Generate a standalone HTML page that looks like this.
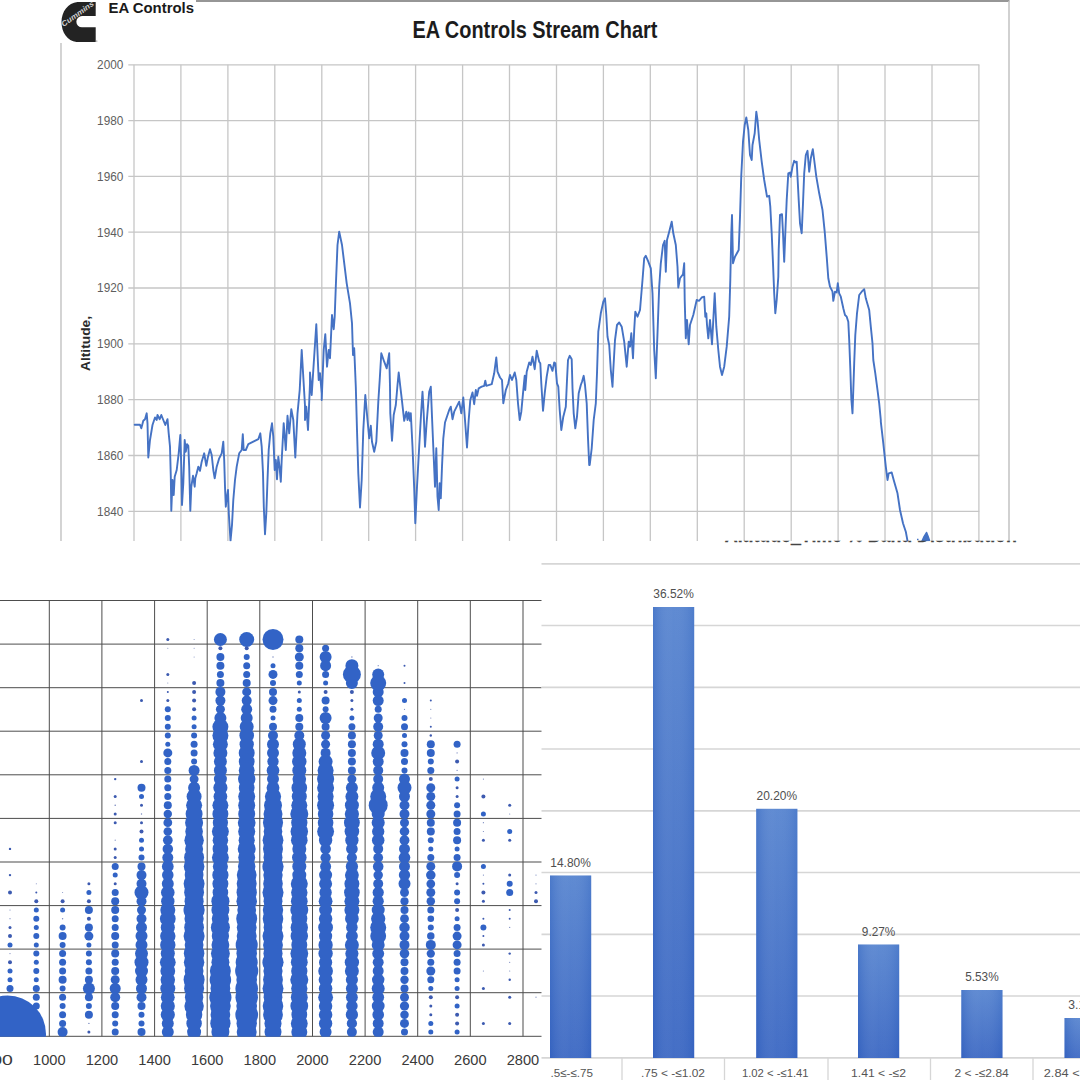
<!DOCTYPE html>
<html lang="en"><head><meta charset="utf-8"><title>EA Controls Stream Chart</title>
<style>
html,body{margin:0;padding:0;background:#fff;}
body{width:1080px;height:1080px;overflow:hidden;font-family:"Liberation Sans",sans-serif;}
svg{display:block;position:absolute;left:0;top:0;}
text{font-family:"Liberation Sans",sans-serif;}
</style></head><body>
<svg width="1080" height="1080" viewBox="0 0 1080 1080">
<defs>
<linearGradient id="bar" x1="0" y1="0" x2="0" y2="1"><stop offset="0" stop-color="#5583cf"/><stop offset="1" stop-color="#3865c2"/></linearGradient>
<linearGradient id="barh" x1="0" y1="0" x2="1" y2="0"><stop offset="0" stop-color="#2a5ab8" stop-opacity=".25"/><stop offset=".5" stop-color="#ffffff" stop-opacity=".06"/><stop offset="1" stop-color="#2a5ab8" stop-opacity=".18"/></linearGradient>
<clipPath id="cpTop"><rect x="0" y="0" width="1080" height="541.2"/></clipPath>
<clipPath id="cpBub"><rect x="0" y="560" width="541" height="476.8"/></clipPath>
<clipPath id="cpTxt"><rect x="700" y="540.8" width="340" height="10"/></clipPath>
<filter id="soft" x="-5%" y="-5%" width="110%" height="110%"><feGaussianBlur stdDeviation="0.6"/></filter>
<filter id="soft2" x="-5%" y="-5%" width="110%" height="110%"><feGaussianBlur stdDeviation="0.35"/></filter>
</defs>
<rect width="1080" height="1080" fill="#ffffff"/>

<g id="top-panel">
<line x1="196" y1="1" x2="1009.5" y2="1" stroke="#969696" stroke-width="1.9"/>
<line x1="1009" y1="1" x2="1009" y2="541" stroke="#c6c6c6" stroke-width="1.6"/>
<line x1="61" y1="43" x2="61" y2="541" stroke="#c9c9c9" stroke-width="1.6"/>
<g stroke="#c6c6c6" stroke-width="1.3" filter="url(#soft2)">
<line x1="128.3" y1="64.8" x2="979.3" y2="64.8"/>
<line x1="128.3" y1="120.6" x2="979.3" y2="120.6"/>
<line x1="128.3" y1="176.4" x2="979.3" y2="176.4"/>
<line x1="128.3" y1="232.2" x2="979.3" y2="232.2"/>
<line x1="128.3" y1="288.0" x2="979.3" y2="288.0"/>
<line x1="128.3" y1="343.9" x2="979.3" y2="343.9"/>
<line x1="128.3" y1="399.7" x2="979.3" y2="399.7"/>
<line x1="128.3" y1="455.5" x2="979.3" y2="455.5"/>
<line x1="128.3" y1="511.3" x2="979.3" y2="511.3"/>
<line x1="134.0" y1="64.8" x2="134.0" y2="541"/>
<line x1="180.9" y1="64.8" x2="180.9" y2="541"/>
<line x1="227.9" y1="64.8" x2="227.9" y2="541"/>
<line x1="274.8" y1="64.8" x2="274.8" y2="541"/>
<line x1="321.8" y1="64.8" x2="321.8" y2="541"/>
<line x1="368.7" y1="64.8" x2="368.7" y2="541"/>
<line x1="415.6" y1="64.8" x2="415.6" y2="541"/>
<line x1="462.6" y1="64.8" x2="462.6" y2="541"/>
<line x1="509.5" y1="64.8" x2="509.5" y2="541"/>
<line x1="556.5" y1="64.8" x2="556.5" y2="541"/>
<line x1="603.4" y1="64.8" x2="603.4" y2="541"/>
<line x1="650.3" y1="64.8" x2="650.3" y2="541"/>
<line x1="697.3" y1="64.8" x2="697.3" y2="541"/>
<line x1="744.2" y1="64.8" x2="744.2" y2="541"/>
<line x1="791.2" y1="64.8" x2="791.2" y2="541"/>
<line x1="838.1" y1="64.8" x2="838.1" y2="541"/>
<line x1="885.0" y1="64.8" x2="885.0" y2="541"/>
<line x1="932.0" y1="64.8" x2="932.0" y2="541"/>
<line x1="978.9" y1="64.8" x2="978.9" y2="541"/>
</g>
<g font-size="13" fill="#5e5e5e" text-anchor="end">
<text x="123.3" y="69.1" textLength="26.2" lengthAdjust="spacingAndGlyphs">2000</text>
<text x="123.3" y="124.9" textLength="26.2" lengthAdjust="spacingAndGlyphs">1980</text>
<text x="123.3" y="180.7" textLength="26.2" lengthAdjust="spacingAndGlyphs">1960</text>
<text x="123.3" y="236.5" textLength="26.2" lengthAdjust="spacingAndGlyphs">1940</text>
<text x="123.3" y="292.3" textLength="26.2" lengthAdjust="spacingAndGlyphs">1920</text>
<text x="123.3" y="348.2" textLength="26.2" lengthAdjust="spacingAndGlyphs">1900</text>
<text x="123.3" y="404.0" textLength="26.2" lengthAdjust="spacingAndGlyphs">1880</text>
<text x="123.3" y="459.8" textLength="26.2" lengthAdjust="spacingAndGlyphs">1860</text>
<text x="123.3" y="515.6" textLength="26.2" lengthAdjust="spacingAndGlyphs">1840</text>
</g>
<text transform="translate(89.6,371) rotate(-90)" font-size="12.2" font-weight="700" fill="#2b2b2b" textLength="55" lengthAdjust="spacingAndGlyphs">Altitude,</text>
<text x="412.4" y="37.6" font-size="23.8" font-weight="700" fill="#1c1c1c" textLength="245" lengthAdjust="spacingAndGlyphs">EA Controls Stream Chart</text>
<g id="logo">
<path d="M95.7 1.9 L77.5 1.9 C68 2.8 61.5 11.5 61.5 22 C61.5 32.5 67.5 41 76.5 41.9 L95.7 41.9 L95.7 27.3 L82 27.3 A5.65 5.65 0 0 1 82 16 L95.7 16 Z" fill="#232323"/>
<text transform="translate(63.6,26.9) rotate(-35.5)" font-size="7.6" font-weight="700" font-style="italic" fill="#d0d0d0" textLength="38" lengthAdjust="spacingAndGlyphs">Cummins</text>
<circle cx="96.8" cy="41" r=".6" fill="#555"/>
</g>
<text x="108.5" y="13" font-size="15" font-weight="700" fill="#1a1a1a" textLength="85.5" lengthAdjust="spacingAndGlyphs">EA Controls</text>
<g clip-path="url(#cpTop)"><polyline points="134.7,424.7 140.0,424.7 141.3,428.3 143.3,420.8 145.0,419.2 146.7,413.3 147.5,423.3 148.3,457.5 150.0,440.0 152.5,425.0 155.0,417.5 156.7,420.0 157.5,415.0 159.7,419.2 161.3,415.0 163.3,420.0 165.3,425.0 167.5,419.2 168.7,433.3 170.0,446.7 170.8,476.7 171.3,510.8 172.5,480.0 173.7,495.0 174.7,476.7 176.7,470.0 178.7,453.3 180.3,435.0 181.3,466.7 182.0,505.0 183.3,483.3 184.7,440.0 185.8,451.7 187.0,444.2 188.3,445.8 189.2,466.7 190.3,510.8 191.3,486.7 193.0,475.8 194.7,486.7 195.3,478.3 196.7,473.3 198.3,466.7 200.0,470.8 201.7,461.7 204.2,453.3 206.3,465.8 208.0,456.7 210.0,449.2 211.7,455.0 213.3,470.0 214.7,478.3 216.7,466.7 219.2,458.3 221.7,453.3 223.3,441.7 224.2,460.0 225.0,486.7 225.8,506.7 227.0,496.7 228.0,490.0 228.8,513.3 230.5,540.8 232.0,525.0 233.3,500.0 235.0,480.0 236.7,466.7 239.2,453.3 241.7,450.0 242.8,434.2 243.7,450.0 245.8,450.0 248.3,444.2 253.3,441.7 258.3,439.2 260.3,433.3 261.7,446.7 263.0,473.3 263.8,506.7 265.0,534.2 266.3,513.3 267.5,480.0 268.7,450.0 270.3,433.3 272.0,423.3 273.3,436.7 274.7,470.0 275.8,460.0 277.0,479.2 278.3,456.7 279.7,468.3 280.8,481.7 281.7,460.0 283.7,423.3 285.8,450.0 287.5,415.8 289.2,433.3 291.3,409.2 293.3,420.0 295.3,457.5 297.5,413.3 299.7,390.0 301.7,350.0 305.0,405.8 305.0,420.0 306.3,406.7 308.0,430.0 310.0,383.3 310.0,372.5 311.7,395.0 313.3,370.0 316.3,324.2 318.7,380.0 320.0,373.3 321.7,393.3 321.7,400.0 323.7,350.0 325.3,334.2 327.0,366.7 328.7,350.0 330.0,358.3 332.0,315.0 333.7,329.2 334.7,316.7 335.8,286.7 337.5,245.0 339.2,231.7 342.0,245.0 346.7,283.3 350.0,303.3 352.0,323.3 353.0,355.0 354.2,348.3 355.8,386.7 357.0,430.0 358.3,473.3 360.0,507.5 361.7,480.0 363.3,430.0 365.3,395.0 367.5,420.0 369.2,438.3 370.8,425.8 372.0,441.7 374.2,451.7 376.3,441.7 378.3,401.7 379.7,380.0 381.3,353.3 384.2,361.7 386.7,368.3 389.2,353.3 390.0,386.7 390.3,413.3 392.0,440.8 393.7,415.0 395.8,405.0 397.5,385.0 398.7,372.5 400.3,386.7 401.7,398.3 404.2,420.8 406.3,411.7 407.5,420.0 408.7,412.5 410.0,420.8 410.8,413.3 412.5,446.7 414.2,488.3 415.3,523.3 417.0,486.7 419.2,446.7 421.3,410.0 422.5,391.7 423.7,413.3 425.0,446.7 426.7,421.7 429.2,391.7 430.8,386.7 432.0,416.7 433.7,456.7 435.0,486.7 436.3,448.3 437.5,496.7 438.7,510.0 439.7,483.3 440.8,498.3 442.0,466.7 443.3,438.3 445.0,422.5 447.5,415.0 449.2,410.0 450.8,406.7 452.5,419.2 454.2,411.7 456.7,406.7 459.2,401.7 461.3,413.3 463.3,397.5 465.0,420.0 467.0,447.5 468.7,420.0 470.3,400.0 472.5,392.5 474.2,404.2 475.8,390.0 477.0,395.8 478.7,388.3 481.7,386.7 484.2,385.8 485.3,380.8 486.3,385.8 491.7,384.2 494.2,373.3 496.3,357.5 497.5,371.7 500.0,377.5 502.0,380.0 503.3,403.3 505.8,390.0 508.3,383.3 510.0,375.0 512.0,380.0 514.7,372.5 516.3,380.0 518.0,403.3 519.7,420.0 521.3,411.7 523.0,393.3 524.7,375.8 525.3,390.0 526.7,371.7 529.2,362.5 530.8,365.0 532.5,356.7 534.7,369.2 536.7,350.8 539.2,361.7 540.3,363.3 541.3,383.3 543.0,410.8 544.7,393.3 546.7,376.7 548.7,365.0 550.3,365.0 552.5,370.8 554.2,362.5 555.3,363.3 557.0,383.3 558.3,386.7 559.7,410.0 561.3,430.0 563.3,416.7 565.8,406.7 567.0,380.0 568.0,360.0 569.7,355.8 571.7,359.2 572.5,388.3 573.7,413.3 575.3,428.3 577.0,416.7 578.7,393.3 580.8,385.0 582.0,381.7 583.7,375.8 585.0,385.0 586.7,403.3 588.0,438.3 589.2,465.0 589.7,465.0 591.7,448.3 593.7,420.0 595.8,403.3 597.0,373.3 598.3,331.7 600.8,313.3 603.3,301.7 605.0,298.3 606.3,315.0 607.5,336.7 609.2,345.0 610.8,370.0 612.5,386.7 613.3,370.0 615.0,340.0 617.0,325.0 619.2,322.5 621.7,326.7 624.2,341.7 626.7,366.7 628.7,341.7 630.0,346.7 631.3,333.3 633.0,358.3 634.2,330.0 635.3,311.7 637.5,316.7 640.0,310.0 642.5,280.0 644.2,258.3 645.8,255.8 648.3,261.7 650.8,268.3 652.5,293.3 654.2,350.0 655.8,378.3 657.5,333.3 659.2,286.7 660.8,263.3 663.0,245.0 664.7,240.8 665.8,271.7 667.0,240.0 669.2,231.7 671.7,221.7 673.3,233.3 675.8,245.0 677.5,266.7 678.3,287.5 680.0,278.3 683.0,274.2 684.2,263.3 684.7,300.0 685.8,338.3 687.0,320.0 688.7,344.2 690.0,325.0 693.3,315.0 696.7,300.0 699.2,300.8 701.7,297.5 704.2,296.7 705.3,316.7 706.3,313.3 707.0,325.0 708.3,338.3 710.0,320.0 712.0,344.2 713.3,320.0 714.7,293.3 716.3,326.7 718.3,350.0 720.0,366.7 722.0,375.0 724.2,366.7 726.7,346.7 729.2,316.7 730.3,280.0 731.3,233.3 732.0,215.0 733.0,263.3 735.0,256.7 738.7,250.0 740.0,216.7 741.3,175.0 743.0,141.7 744.7,125.0 746.3,117.5 748.3,130.0 750.0,155.0 751.7,160.0 752.5,145.0 754.7,133.3 756.3,111.7 757.5,120.0 759.2,140.0 761.7,161.7 764.2,180.0 767.0,196.7 769.2,195.8 770.3,206.7 771.7,233.3 773.0,263.3 774.2,293.3 775.3,313.3 776.7,300.0 778.3,276.7 778.7,250.0 780.0,215.0 782.0,214.2 783.0,233.3 784.2,261.7 785.3,233.3 786.7,200.0 788.3,173.3 790.0,172.5 790.8,176.7 792.5,166.7 794.2,160.8 795.8,162.5 796.7,161.7 797.5,176.7 798.7,200.0 800.0,223.3 801.7,233.3 803.0,203.3 804.2,173.3 805.8,155.0 807.5,150.8 809.2,171.7 810.8,158.3 812.8,149.2 814.2,160.0 816.3,176.7 819.2,193.3 822.5,210.0 824.7,231.7 826.7,256.7 828.3,278.3 830.0,286.7 832.5,291.7 833.3,300.8 835.0,291.7 836.7,292.5 837.8,283.3 839.2,293.3 840.8,296.7 843.3,308.3 845.0,315.0 846.7,316.7 848.3,321.7 849.2,340.0 850.3,368.3 851.3,398.3 852.5,413.3 853.3,390.0 854.2,363.3 855.3,335.0 857.0,313.3 859.2,295.0 861.7,291.7 864.2,289.2 865.8,298.3 869.2,310.0 870.8,326.7 872.5,343.3 873.3,360.0 875.3,373.3 877.5,390.0 879.2,403.3 880.8,420.0 880.8,421.7 883.3,443.3 885.8,466.7 887.5,480.0 888.7,473.3 891.7,472.5 893.7,480.0 897.5,493.3 900.0,510.0 903.0,523.3 905.8,531.7 907.5,540.8" fill="none" stroke="#4472c4" stroke-width="1.9" stroke-linejoin="round" stroke-linecap="round" filter="url(#soft2)"/>
<path d="M917 539.5 L918.5 539.5 M922 541 L924 536.5 L926.6 532.4 L928 536 L929.6 540.5 Z" fill="#4472c4" stroke="#4472c4" stroke-width="1.4" stroke-linejoin="round"/></g>
</g>
<g clip-path="url(#cpTxt)"><text x="724.8" y="541.5" font-size="25" font-weight="700" fill="#444444" stroke="#444444" stroke-width="0.4" textLength="292" lengthAdjust="spacingAndGlyphs">Altitude_Time % Band Distribution</text></g>
<g id="bubble-panel">
<g stroke="#4d4d4d" stroke-width="1" filter="url(#soft2)">
<line x1="0" y1="600.5" x2="541.5" y2="600.5"/>
<line x1="0" y1="644.1" x2="541.5" y2="644.1"/>
<line x1="0" y1="687.7" x2="541.5" y2="687.7"/>
<line x1="0" y1="731.2" x2="541.5" y2="731.2"/>
<line x1="0" y1="774.8" x2="541.5" y2="774.8"/>
<line x1="0" y1="818.4" x2="541.5" y2="818.4"/>
<line x1="0" y1="862.0" x2="541.5" y2="862.0"/>
<line x1="0" y1="905.6" x2="541.5" y2="905.6"/>
<line x1="0" y1="949.1" x2="541.5" y2="949.1"/>
<line x1="0" y1="992.7" x2="541.5" y2="992.7"/>
<line x1="0" y1="1036.3" x2="541.5" y2="1036.3"/>
<line x1="49.3" y1="600.5" x2="49.3" y2="1036.3"/>
<line x1="101.9" y1="600.5" x2="101.9" y2="1036.3"/>
<line x1="154.6" y1="600.5" x2="154.6" y2="1036.3"/>
<line x1="207.2" y1="600.5" x2="207.2" y2="1036.3"/>
<line x1="259.8" y1="600.5" x2="259.8" y2="1036.3"/>
<line x1="312.5" y1="600.5" x2="312.5" y2="1036.3"/>
<line x1="365.1" y1="600.5" x2="365.1" y2="1036.3"/>
<line x1="417.7" y1="600.5" x2="417.7" y2="1036.3"/>
<line x1="470.3" y1="600.5" x2="470.3" y2="1036.3"/>
<line x1="523.0" y1="600.5" x2="523.0" y2="1036.3"/>
</g>
<g fill="#3164c6" clip-path="url(#cpBub)"><g filter="url(#soft)">
<circle cx="7.5" cy="1034" r="38.5"/>
<circle cx="10.0" cy="848.9" r="1.2" fill="#3c5ab0"/>
<circle cx="10.0" cy="875.1" r="1.2" fill="#3c5ab0"/>
<circle cx="10.0" cy="892.5" r="2" fill="#3c5ab0"/>
<circle cx="10.0" cy="910.0" r="0.6" fill="#4a5fa8" fill-opacity=".75"/>
<circle cx="10.0" cy="918.7" r="0.6" fill="#4a5fa8" fill-opacity=".75"/>
<circle cx="10.0" cy="927.4" r="1.5" fill="#3c5ab0"/>
<circle cx="10.0" cy="936.1" r="2" fill="#3c5ab0"/>
<circle cx="10.0" cy="944.9" r="2.5"/>
<circle cx="10.0" cy="953.6" r="0.6" fill="#4a5fa8" fill-opacity=".75"/>
<circle cx="10.0" cy="962.3" r="2" fill="#3c5ab0"/>
<circle cx="10.0" cy="971.0" r="2.5"/>
<circle cx="10.0" cy="979.8" r="2.5"/>
<circle cx="10.0" cy="988.5" r="3.5"/>
<circle cx="36.3" cy="883.8" r="0.5" fill="#4a5fa8" fill-opacity=".75"/>
<circle cx="36.3" cy="892.5" r="1" fill="#3c5ab0"/>
<circle cx="36.3" cy="901.2" r="2" fill="#3c5ab0"/>
<circle cx="36.3" cy="910.0" r="2.5"/>
<circle cx="36.3" cy="918.7" r="3"/>
<circle cx="36.3" cy="927.4" r="2.5"/>
<circle cx="36.3" cy="936.1" r="3"/>
<circle cx="36.3" cy="944.9" r="2.5"/>
<circle cx="36.3" cy="953.6" r="3"/>
<circle cx="36.3" cy="962.3" r="2.5"/>
<circle cx="36.3" cy="971.0" r="3"/>
<circle cx="36.3" cy="979.8" r="2.5"/>
<circle cx="36.3" cy="988.5" r="3.5"/>
<circle cx="36.3" cy="997.2" r="3.5"/>
<circle cx="36.3" cy="1006.0" r="3.5"/>
<circle cx="62.6" cy="892.5" r="0.5" fill="#4a5fa8" fill-opacity=".75"/>
<circle cx="62.6" cy="901.2" r="2" fill="#3c5ab0"/>
<circle cx="62.6" cy="910.0" r="2.5"/>
<circle cx="62.6" cy="918.7" r="0.7" fill="#4a5fa8" fill-opacity=".75"/>
<circle cx="62.6" cy="927.4" r="3"/>
<circle cx="62.6" cy="936.1" r="4"/>
<circle cx="62.6" cy="944.9" r="3"/>
<circle cx="62.6" cy="953.6" r="3.5"/>
<circle cx="62.6" cy="962.3" r="3.5"/>
<circle cx="62.6" cy="971.0" r="3.5"/>
<circle cx="62.6" cy="979.8" r="4"/>
<circle cx="62.6" cy="988.5" r="3"/>
<circle cx="62.6" cy="997.2" r="3.5"/>
<circle cx="62.6" cy="1006.0" r="3"/>
<circle cx="62.6" cy="1014.7" r="3.5"/>
<circle cx="62.6" cy="1023.4" r="3.5"/>
<circle cx="62.6" cy="1032.1" r="5"/>
<circle cx="88.9" cy="883.8" r="1.5" fill="#3c5ab0"/>
<circle cx="88.9" cy="892.5" r="2.5"/>
<circle cx="88.9" cy="901.2" r="2" fill="#3c5ab0"/>
<circle cx="88.9" cy="910.0" r="4"/>
<circle cx="88.9" cy="918.7" r="2" fill="#3c5ab0"/>
<circle cx="88.9" cy="927.4" r="4"/>
<circle cx="88.9" cy="936.1" r="4.5"/>
<circle cx="88.9" cy="944.9" r="2.5"/>
<circle cx="88.9" cy="953.6" r="3"/>
<circle cx="88.9" cy="962.3" r="3"/>
<circle cx="88.9" cy="971.0" r="3.5"/>
<circle cx="88.9" cy="979.8" r="4"/>
<circle cx="88.9" cy="988.5" r="6"/>
<circle cx="88.9" cy="997.2" r="4"/>
<circle cx="88.9" cy="1006.0" r="3"/>
<circle cx="88.9" cy="1014.7" r="4"/>
<circle cx="88.9" cy="1023.4" r="0.7" fill="#4a5fa8" fill-opacity=".75"/>
<circle cx="88.9" cy="1032.1" r="1.5" fill="#3c5ab0"/>
<circle cx="115.2" cy="779.1" r="1.2" fill="#3c5ab0"/>
<circle cx="115.2" cy="796.5" r="1.5" fill="#3c5ab0"/>
<circle cx="115.2" cy="805.3" r="0.8" fill="#4a5fa8" fill-opacity=".75"/>
<circle cx="115.2" cy="814.0" r="1.5" fill="#3c5ab0"/>
<circle cx="115.2" cy="822.7" r="1.5" fill="#3c5ab0"/>
<circle cx="115.2" cy="840.2" r="0.6" fill="#4a5fa8" fill-opacity=".75"/>
<circle cx="115.2" cy="848.9" r="1.5" fill="#3c5ab0"/>
<circle cx="115.2" cy="857.6" r="1.5" fill="#3c5ab0"/>
<circle cx="115.2" cy="866.4" r="3.5"/>
<circle cx="115.2" cy="875.1" r="2.5"/>
<circle cx="115.2" cy="883.8" r="1.5" fill="#3c5ab0"/>
<circle cx="115.2" cy="892.5" r="3.5"/>
<circle cx="115.2" cy="901.2" r="4"/>
<circle cx="115.2" cy="910.0" r="4"/>
<circle cx="115.2" cy="918.7" r="3.5"/>
<circle cx="115.2" cy="927.4" r="3.5"/>
<circle cx="115.2" cy="936.1" r="4"/>
<circle cx="115.2" cy="944.9" r="3.5"/>
<circle cx="115.2" cy="953.6" r="4"/>
<circle cx="115.2" cy="962.3" r="3.5"/>
<circle cx="115.2" cy="971.0" r="4"/>
<circle cx="115.2" cy="979.8" r="4.5"/>
<circle cx="115.2" cy="988.5" r="5.5"/>
<circle cx="115.2" cy="997.2" r="5"/>
<circle cx="115.2" cy="1006.0" r="4"/>
<circle cx="115.2" cy="1014.7" r="3.5"/>
<circle cx="115.2" cy="1023.4" r="3"/>
<circle cx="115.2" cy="1032.1" r="3.5"/>
<circle cx="141.5" cy="700.6" r="1.5" fill="#3c5ab0"/>
<circle cx="141.5" cy="761.6" r="1.5" fill="#3c5ab0"/>
<circle cx="141.5" cy="787.8" r="4"/>
<circle cx="141.5" cy="796.5" r="2.5"/>
<circle cx="141.5" cy="805.3" r="1.5" fill="#3c5ab0"/>
<circle cx="141.5" cy="814.0" r="0.7" fill="#4a5fa8" fill-opacity=".75"/>
<circle cx="141.5" cy="822.7" r="1.5" fill="#3c5ab0"/>
<circle cx="141.5" cy="831.5" r="2" fill="#3c5ab0"/>
<circle cx="141.5" cy="840.2" r="2.5"/>
<circle cx="141.5" cy="848.9" r="2.5"/>
<circle cx="141.5" cy="857.6" r="3"/>
<circle cx="141.5" cy="866.4" r="4"/>
<circle cx="141.5" cy="875.1" r="5"/>
<circle cx="141.5" cy="883.8" r="5"/>
<circle cx="141.5" cy="892.5" r="7"/>
<circle cx="141.5" cy="901.2" r="5"/>
<circle cx="141.5" cy="910.0" r="4.5"/>
<circle cx="141.5" cy="918.7" r="5"/>
<circle cx="141.5" cy="927.4" r="5.5"/>
<circle cx="141.5" cy="936.1" r="6"/>
<circle cx="141.5" cy="944.9" r="6"/>
<circle cx="141.5" cy="953.6" r="6.5"/>
<circle cx="141.5" cy="962.3" r="7"/>
<circle cx="141.5" cy="971.0" r="6.5"/>
<circle cx="141.5" cy="979.8" r="6"/>
<circle cx="141.5" cy="988.5" r="5.5"/>
<circle cx="141.5" cy="997.2" r="5"/>
<circle cx="141.5" cy="1006.0" r="4"/>
<circle cx="141.5" cy="1014.7" r="3"/>
<circle cx="141.5" cy="1023.4" r="3"/>
<circle cx="141.5" cy="1032.1" r="4"/>
<circle cx="167.8" cy="639.5" r="1.5" fill="#3c5ab0"/>
<circle cx="167.8" cy="648.2" r="0.5" fill="#4a5fa8" fill-opacity=".75"/>
<circle cx="167.8" cy="674.4" r="1.5" fill="#3c5ab0"/>
<circle cx="167.8" cy="683.1" r="0.5" fill="#4a5fa8" fill-opacity=".75"/>
<circle cx="167.8" cy="691.9" r="1" fill="#3c5ab0"/>
<circle cx="167.8" cy="700.6" r="1.5" fill="#3c5ab0"/>
<circle cx="167.8" cy="709.3" r="3"/>
<circle cx="167.8" cy="718.0" r="3"/>
<circle cx="167.8" cy="726.8" r="3"/>
<circle cx="167.8" cy="735.5" r="3"/>
<circle cx="167.8" cy="744.2" r="2.5"/>
<circle cx="167.8" cy="752.9" r="4.5"/>
<circle cx="167.8" cy="761.6" r="3.5"/>
<circle cx="167.8" cy="770.4" r="3.5"/>
<circle cx="167.8" cy="779.1" r="3.5"/>
<circle cx="167.8" cy="787.8" r="3.5"/>
<circle cx="167.8" cy="796.5" r="3.5"/>
<circle cx="167.8" cy="805.3" r="4"/>
<circle cx="167.8" cy="814.0" r="4.2"/>
<circle cx="167.8" cy="822.7" r="4.4"/>
<circle cx="167.8" cy="831.5" r="4.3"/>
<circle cx="167.8" cy="840.2" r="4.85"/>
<circle cx="167.8" cy="848.9" r="5.26"/>
<circle cx="167.8" cy="857.6" r="5.5"/>
<circle cx="167.8" cy="866.4" r="5.88"/>
<circle cx="167.8" cy="875.1" r="5.78"/>
<circle cx="167.8" cy="883.8" r="6"/>
<circle cx="167.8" cy="892.5" r="6.82"/>
<circle cx="167.8" cy="901.2" r="6.7"/>
<circle cx="167.8" cy="910.0" r="7.5"/>
<circle cx="167.8" cy="918.7" r="7.88"/>
<circle cx="167.8" cy="927.4" r="7.07"/>
<circle cx="167.8" cy="936.1" r="7.69"/>
<circle cx="167.8" cy="944.9" r="7.68"/>
<circle cx="167.8" cy="953.6" r="7.07"/>
<circle cx="167.8" cy="962.3" r="7.89"/>
<circle cx="167.8" cy="971.0" r="7.41"/>
<circle cx="167.8" cy="979.8" r="7.23"/>
<circle cx="167.8" cy="988.5" r="7.5"/>
<circle cx="167.8" cy="997.2" r="6.94"/>
<circle cx="167.8" cy="1006.0" r="7.08"/>
<circle cx="167.8" cy="1014.7" r="7.1"/>
<circle cx="167.8" cy="1023.4" r="6.0"/>
<circle cx="167.8" cy="1032.1" r="6"/>
<circle cx="194.1" cy="639.5" r="0.5" fill="#4a5fa8" fill-opacity=".75"/>
<circle cx="194.1" cy="648.2" r="0.5" fill="#4a5fa8" fill-opacity=".75"/>
<circle cx="194.1" cy="657.0" r="0.5" fill="#4a5fa8" fill-opacity=".75"/>
<circle cx="194.1" cy="683.1" r="2" fill="#3c5ab0"/>
<circle cx="194.1" cy="691.9" r="2" fill="#3c5ab0"/>
<circle cx="194.1" cy="700.6" r="2" fill="#3c5ab0"/>
<circle cx="194.1" cy="709.3" r="2" fill="#3c5ab0"/>
<circle cx="194.1" cy="718.0" r="2.5"/>
<circle cx="194.1" cy="726.8" r="2.5"/>
<circle cx="194.1" cy="735.5" r="3"/>
<circle cx="194.1" cy="744.2" r="3.5"/>
<circle cx="194.1" cy="752.9" r="3.5"/>
<circle cx="194.1" cy="761.6" r="3"/>
<circle cx="194.1" cy="770.4" r="5.5"/>
<circle cx="194.1" cy="779.1" r="4.5"/>
<circle cx="194.1" cy="787.8" r="6"/>
<circle cx="194.1" cy="796.5" r="7.5"/>
<circle cx="194.1" cy="805.3" r="8"/>
<circle cx="194.1" cy="814.0" r="8.5"/>
<circle cx="194.1" cy="822.7" r="9"/>
<circle cx="194.1" cy="831.5" r="8.82"/>
<circle cx="194.1" cy="840.2" r="9.71"/>
<circle cx="194.1" cy="848.9" r="9.03"/>
<circle cx="194.1" cy="857.6" r="10"/>
<circle cx="194.1" cy="866.4" r="10.32"/>
<circle cx="194.1" cy="875.1" r="9.41"/>
<circle cx="194.1" cy="883.8" r="10.47"/>
<circle cx="194.1" cy="892.5" r="9.96"/>
<circle cx="194.1" cy="901.2" r="9.58"/>
<circle cx="194.1" cy="910.0" r="10.6"/>
<circle cx="194.1" cy="918.7" r="9.62"/>
<circle cx="194.1" cy="927.4" r="9.9"/>
<circle cx="194.1" cy="936.1" r="10.51"/>
<circle cx="194.1" cy="944.9" r="9.42"/>
<circle cx="194.1" cy="953.6" r="10.26"/>
<circle cx="194.1" cy="962.3" r="10.23"/>
<circle cx="194.1" cy="971.0" r="9.43"/>
<circle cx="194.1" cy="979.8" r="10.53"/>
<circle cx="194.1" cy="988.5" r="10"/>
<circle cx="194.1" cy="997.2" r="9.19"/>
<circle cx="194.1" cy="1006.0" r="9.72"/>
<circle cx="194.1" cy="1014.7" r="8.2"/>
<circle cx="194.1" cy="1023.4" r="7.76"/>
<circle cx="194.1" cy="1032.1" r="7"/>
<circle cx="220.4" cy="639.5" r="6.5"/>
<circle cx="220.4" cy="648.2" r="2" fill="#3c5ab0"/>
<circle cx="220.4" cy="657.0" r="4"/>
<circle cx="220.4" cy="665.7" r="4"/>
<circle cx="220.4" cy="674.4" r="3.5"/>
<circle cx="220.4" cy="683.1" r="4"/>
<circle cx="220.4" cy="691.9" r="5"/>
<circle cx="220.4" cy="700.6" r="5"/>
<circle cx="220.4" cy="709.3" r="4.5"/>
<circle cx="220.4" cy="718.0" r="6"/>
<circle cx="220.4" cy="726.8" r="8"/>
<circle cx="220.4" cy="735.5" r="8"/>
<circle cx="220.4" cy="744.2" r="7.5"/>
<circle cx="220.4" cy="752.9" r="7"/>
<circle cx="220.4" cy="761.6" r="6.5"/>
<circle cx="220.4" cy="770.4" r="6.5"/>
<circle cx="220.4" cy="779.1" r="6.5"/>
<circle cx="220.4" cy="787.8" r="7.08"/>
<circle cx="220.4" cy="796.5" r="6.88"/>
<circle cx="220.4" cy="805.3" r="8"/>
<circle cx="220.4" cy="814.0" r="8"/>
<circle cx="220.4" cy="822.7" r="7.61"/>
<circle cx="220.4" cy="831.5" r="8.47"/>
<circle cx="220.4" cy="840.2" r="7.76"/>
<circle cx="220.4" cy="848.9" r="7.85"/>
<circle cx="220.4" cy="857.6" r="8.44"/>
<circle cx="220.4" cy="866.4" r="7.56"/>
<circle cx="220.4" cy="875.1" r="8.14"/>
<circle cx="220.4" cy="883.8" r="8"/>
<circle cx="220.4" cy="892.5" r="7.8"/>
<circle cx="220.4" cy="901.2" r="9.05"/>
<circle cx="220.4" cy="910.0" r="9"/>
<circle cx="220.4" cy="918.7" r="8.63"/>
<circle cx="220.4" cy="927.4" r="9.54"/>
<circle cx="220.4" cy="936.1" r="8.65"/>
<circle cx="220.4" cy="944.9" r="8.92"/>
<circle cx="220.4" cy="953.6" r="9.45"/>
<circle cx="220.4" cy="962.3" r="9"/>
<circle cx="220.4" cy="971.0" r="10.5"/>
<circle cx="220.4" cy="979.8" r="10.73"/>
<circle cx="220.4" cy="988.5" r="9.91"/>
<circle cx="220.4" cy="997.2" r="11.06"/>
<circle cx="220.4" cy="1006.0" r="10.35"/>
<circle cx="220.4" cy="1014.7" r="9.84"/>
<circle cx="220.4" cy="1023.4" r="10.14"/>
<circle cx="220.4" cy="1032.1" r="9"/>
<circle cx="246.7" cy="639.5" r="7.5"/>
<circle cx="246.7" cy="648.2" r="2" fill="#3c5ab0"/>
<circle cx="246.7" cy="657.0" r="3"/>
<circle cx="246.7" cy="665.7" r="3.5"/>
<circle cx="246.7" cy="674.4" r="3.5"/>
<circle cx="246.7" cy="683.1" r="4"/>
<circle cx="246.7" cy="691.9" r="4.5"/>
<circle cx="246.7" cy="700.6" r="5"/>
<circle cx="246.7" cy="709.3" r="5.5"/>
<circle cx="246.7" cy="718.0" r="6"/>
<circle cx="246.7" cy="726.8" r="7"/>
<circle cx="246.7" cy="735.5" r="7.32"/>
<circle cx="246.7" cy="744.2" r="7.17"/>
<circle cx="246.7" cy="752.9" r="8"/>
<circle cx="246.7" cy="761.6" r="7.89"/>
<circle cx="246.7" cy="770.4" r="7.93"/>
<circle cx="246.7" cy="779.1" r="8.72"/>
<circle cx="246.7" cy="787.8" r="7.91"/>
<circle cx="246.7" cy="796.5" r="8.49"/>
<circle cx="246.7" cy="805.3" r="8.5"/>
<circle cx="246.7" cy="814.0" r="8.5"/>
<circle cx="246.7" cy="822.7" r="8.85"/>
<circle cx="246.7" cy="831.5" r="8.54"/>
<circle cx="246.7" cy="840.2" r="8.1"/>
<circle cx="246.7" cy="848.9" r="9.0"/>
<circle cx="246.7" cy="857.6" r="8.5"/>
<circle cx="246.7" cy="866.4" r="8.71"/>
<circle cx="246.7" cy="875.1" r="9.9"/>
<circle cx="246.7" cy="883.8" r="10"/>
<circle cx="246.7" cy="892.5" r="10.19"/>
<circle cx="246.7" cy="901.2" r="10.3"/>
<circle cx="246.7" cy="910.0" r="9.41"/>
<circle cx="246.7" cy="918.7" r="10.48"/>
<circle cx="246.7" cy="927.4" r="9.94"/>
<circle cx="246.7" cy="936.1" r="10"/>
<circle cx="246.7" cy="944.9" r="11.01"/>
<circle cx="246.7" cy="953.6" r="10.31"/>
<circle cx="246.7" cy="962.3" r="11"/>
<circle cx="246.7" cy="971.0" r="11.55"/>
<circle cx="246.7" cy="979.8" r="10.36"/>
<circle cx="246.7" cy="988.5" r="11.31"/>
<circle cx="246.7" cy="997.2" r="11.23"/>
<circle cx="246.7" cy="1006.0" r="10.39"/>
<circle cx="246.7" cy="1014.7" r="11.37"/>
<circle cx="246.7" cy="1023.4" r="10.22"/>
<circle cx="246.7" cy="1032.1" r="10"/>
<circle cx="273.0" cy="639.5" r="10.5"/>
<circle cx="273.0" cy="657.0" r="0.7" fill="#4a5fa8" fill-opacity=".75"/>
<circle cx="273.0" cy="665.7" r="2.5"/>
<circle cx="273.0" cy="674.4" r="4.5"/>
<circle cx="273.0" cy="683.1" r="3"/>
<circle cx="273.0" cy="691.9" r="4"/>
<circle cx="273.0" cy="700.6" r="4.5"/>
<circle cx="273.0" cy="709.3" r="3.5"/>
<circle cx="273.0" cy="718.0" r="2.5"/>
<circle cx="273.0" cy="726.8" r="4"/>
<circle cx="273.0" cy="735.5" r="5"/>
<circle cx="273.0" cy="744.2" r="6"/>
<circle cx="273.0" cy="752.9" r="6"/>
<circle cx="273.0" cy="761.6" r="5.68"/>
<circle cx="273.0" cy="770.4" r="6.34"/>
<circle cx="273.0" cy="779.1" r="6"/>
<circle cx="273.0" cy="787.8" r="6.45"/>
<circle cx="273.0" cy="796.5" r="8.09"/>
<circle cx="273.0" cy="805.3" r="9"/>
<circle cx="273.0" cy="814.0" r="9.5"/>
<circle cx="273.0" cy="822.7" r="10.07"/>
<circle cx="273.0" cy="831.5" r="9.32"/>
<circle cx="273.0" cy="840.2" r="10.42"/>
<circle cx="273.0" cy="848.9" r="10.03"/>
<circle cx="273.0" cy="857.6" r="9.53"/>
<circle cx="273.0" cy="866.4" r="10.59"/>
<circle cx="273.0" cy="875.1" r="9.68"/>
<circle cx="273.0" cy="883.8" r="9.83"/>
<circle cx="273.0" cy="892.5" r="10.54"/>
<circle cx="273.0" cy="901.2" r="9.45"/>
<circle cx="273.0" cy="910.0" r="10.2"/>
<circle cx="273.0" cy="918.7" r="10.29"/>
<circle cx="273.0" cy="927.4" r="9.41"/>
<circle cx="273.0" cy="936.1" r="10.49"/>
<circle cx="273.0" cy="944.9" r="9.93"/>
<circle cx="273.0" cy="953.6" r="9.6"/>
<circle cx="273.0" cy="962.3" r="10.6"/>
<circle cx="273.0" cy="971.0" r="9.6"/>
<circle cx="273.0" cy="979.8" r="9.93"/>
<circle cx="273.0" cy="988.5" r="10.49"/>
<circle cx="273.0" cy="997.2" r="9.42"/>
<circle cx="273.0" cy="1006.0" r="10.29"/>
<circle cx="273.0" cy="1014.7" r="9.88"/>
<circle cx="273.0" cy="1023.4" r="8.57"/>
<circle cx="273.0" cy="1032.1" r="8.5"/>
<circle cx="299.3" cy="639.5" r="4"/>
<circle cx="299.3" cy="648.2" r="4"/>
<circle cx="299.3" cy="657.0" r="4.5"/>
<circle cx="299.3" cy="665.7" r="4"/>
<circle cx="299.3" cy="674.4" r="3.5"/>
<circle cx="299.3" cy="683.1" r="2.5"/>
<circle cx="299.3" cy="691.9" r="1.5" fill="#3c5ab0"/>
<circle cx="299.3" cy="700.6" r="2.5"/>
<circle cx="299.3" cy="709.3" r="2.5"/>
<circle cx="299.3" cy="718.0" r="4"/>
<circle cx="299.3" cy="726.8" r="4"/>
<circle cx="299.3" cy="735.5" r="5"/>
<circle cx="299.3" cy="744.2" r="6.5"/>
<circle cx="299.3" cy="752.9" r="7"/>
<circle cx="299.3" cy="761.6" r="7.25"/>
<circle cx="299.3" cy="770.4" r="7"/>
<circle cx="299.3" cy="779.1" r="6.83"/>
<circle cx="299.3" cy="787.8" r="7.82"/>
<circle cx="299.3" cy="796.5" r="7.54"/>
<circle cx="299.3" cy="805.3" r="8.01"/>
<circle cx="299.3" cy="814.0" r="9.02"/>
<circle cx="299.3" cy="822.7" r="8.16"/>
<circle cx="299.3" cy="831.5" r="8.77"/>
<circle cx="299.3" cy="840.2" r="8.32"/>
<circle cx="299.3" cy="848.9" r="7"/>
<circle cx="299.3" cy="857.6" r="7.3"/>
<circle cx="299.3" cy="866.4" r="7.02"/>
<circle cx="299.3" cy="875.1" r="7"/>
<circle cx="299.3" cy="883.8" r="8.5"/>
<circle cx="299.3" cy="892.5" r="8.22"/>
<circle cx="299.3" cy="901.2" r="8.37"/>
<circle cx="299.3" cy="910.0" r="8.96"/>
<circle cx="299.3" cy="918.7" r="8.03"/>
<circle cx="299.3" cy="927.4" r="8.68"/>
<circle cx="299.3" cy="936.1" r="8.74"/>
<circle cx="299.3" cy="944.9" r="8.0"/>
<circle cx="299.3" cy="953.6" r="8.92"/>
<circle cx="299.3" cy="962.3" r="8.44"/>
<circle cx="299.3" cy="971.0" r="8.17"/>
<circle cx="299.3" cy="979.8" r="9.01"/>
<circle cx="299.3" cy="988.5" r="8.15"/>
<circle cx="299.3" cy="997.2" r="8.45"/>
<circle cx="299.3" cy="1006.0" r="8.91"/>
<circle cx="299.3" cy="1014.7" r="7.9"/>
<circle cx="299.3" cy="1023.4" r="8.43"/>
<circle cx="299.3" cy="1032.1" r="8"/>
<circle cx="325.6" cy="648.2" r="3.5"/>
<circle cx="325.6" cy="657.0" r="6"/>
<circle cx="325.6" cy="665.7" r="5.5"/>
<circle cx="325.6" cy="674.4" r="3.5"/>
<circle cx="325.6" cy="683.1" r="2.5"/>
<circle cx="325.6" cy="691.9" r="2" fill="#3c5ab0"/>
<circle cx="325.6" cy="700.6" r="4"/>
<circle cx="325.6" cy="709.3" r="3"/>
<circle cx="325.6" cy="718.0" r="6"/>
<circle cx="325.6" cy="726.8" r="4"/>
<circle cx="325.6" cy="735.5" r="4.5"/>
<circle cx="325.6" cy="744.2" r="4.5"/>
<circle cx="325.6" cy="752.9" r="5"/>
<circle cx="325.6" cy="761.6" r="7"/>
<circle cx="325.6" cy="770.4" r="8"/>
<circle cx="325.6" cy="779.1" r="8.56"/>
<circle cx="325.6" cy="787.8" r="8.5"/>
<circle cx="325.6" cy="796.5" r="8.06"/>
<circle cx="325.6" cy="805.3" r="8.5"/>
<circle cx="325.6" cy="814.0" r="7.8"/>
<circle cx="325.6" cy="822.7" r="7.81"/>
<circle cx="325.6" cy="831.5" r="8.46"/>
<circle cx="325.6" cy="840.2" r="6.65"/>
<circle cx="325.6" cy="848.9" r="5.33"/>
<circle cx="325.6" cy="857.6" r="5.17"/>
<circle cx="325.6" cy="866.4" r="5.51"/>
<circle cx="325.6" cy="875.1" r="6.5"/>
<circle cx="325.6" cy="883.8" r="6.51"/>
<circle cx="325.6" cy="892.5" r="6.2"/>
<circle cx="325.6" cy="901.2" r="6.89"/>
<circle cx="325.6" cy="910.0" r="6.5"/>
<circle cx="325.6" cy="918.7" r="6.74"/>
<circle cx="325.6" cy="927.4" r="7.37"/>
<circle cx="325.6" cy="936.1" r="6.61"/>
<circle cx="325.6" cy="944.9" r="7.15"/>
<circle cx="325.6" cy="953.6" r="7.19"/>
<circle cx="325.6" cy="962.3" r="6.59"/>
<circle cx="325.6" cy="971.0" r="7.35"/>
<circle cx="325.6" cy="979.8" r="6.94"/>
<circle cx="325.6" cy="988.5" r="6.73"/>
<circle cx="325.6" cy="997.2" r="7.42"/>
<circle cx="325.6" cy="1006.0" r="6.71"/>
<circle cx="325.6" cy="1014.7" r="6.76"/>
<circle cx="325.6" cy="1023.4" r="6.69"/>
<circle cx="325.6" cy="1032.1" r="6"/>
<circle cx="351.9" cy="657.0" r="0.7" fill="#4a5fa8" fill-opacity=".75"/>
<circle cx="351.9" cy="665.7" r="6.5"/>
<circle cx="351.9" cy="674.4" r="9"/>
<circle cx="351.9" cy="683.1" r="6"/>
<circle cx="351.9" cy="691.9" r="2" fill="#3c5ab0"/>
<circle cx="351.9" cy="700.6" r="1.5" fill="#3c5ab0"/>
<circle cx="351.9" cy="709.3" r="1.5" fill="#3c5ab0"/>
<circle cx="351.9" cy="718.0" r="2.5"/>
<circle cx="351.9" cy="726.8" r="3.5"/>
<circle cx="351.9" cy="735.5" r="4"/>
<circle cx="351.9" cy="744.2" r="4"/>
<circle cx="351.9" cy="752.9" r="4"/>
<circle cx="351.9" cy="761.6" r="4"/>
<circle cx="351.9" cy="770.4" r="4"/>
<circle cx="351.9" cy="779.1" r="4.5"/>
<circle cx="351.9" cy="787.8" r="6"/>
<circle cx="351.9" cy="796.5" r="6.5"/>
<circle cx="351.9" cy="805.3" r="7"/>
<circle cx="351.9" cy="814.0" r="7.12"/>
<circle cx="351.9" cy="822.7" r="7.93"/>
<circle cx="351.9" cy="831.5" r="7.31"/>
<circle cx="351.9" cy="840.2" r="6.64"/>
<circle cx="351.9" cy="848.9" r="5.86"/>
<circle cx="351.9" cy="857.6" r="5.09"/>
<circle cx="351.9" cy="866.4" r="6.12"/>
<circle cx="351.9" cy="875.1" r="6.95"/>
<circle cx="351.9" cy="883.8" r="7.5"/>
<circle cx="351.9" cy="892.5" r="7.83"/>
<circle cx="351.9" cy="901.2" r="7.5"/>
<circle cx="351.9" cy="910.0" r="7.5"/>
<circle cx="351.9" cy="918.7" r="6.87"/>
<circle cx="351.9" cy="927.4" r="5.79"/>
<circle cx="351.9" cy="936.1" r="6"/>
<circle cx="351.9" cy="944.9" r="7"/>
<circle cx="351.9" cy="953.6" r="6.6"/>
<circle cx="351.9" cy="962.3" r="7.16"/>
<circle cx="351.9" cy="971.0" r="7"/>
<circle cx="351.9" cy="979.8" r="6.07"/>
<circle cx="351.9" cy="988.5" r="6"/>
<circle cx="351.9" cy="997.2" r="5.94"/>
<circle cx="351.9" cy="1006.0" r="5.77"/>
<circle cx="351.9" cy="1014.7" r="6.14"/>
<circle cx="351.9" cy="1023.4" r="5.15"/>
<circle cx="351.9" cy="1032.1" r="5"/>
<circle cx="378.2" cy="665.7" r="0.6" fill="#4a5fa8" fill-opacity=".75"/>
<circle cx="378.2" cy="674.4" r="6"/>
<circle cx="378.2" cy="683.1" r="8"/>
<circle cx="378.2" cy="691.9" r="5.5"/>
<circle cx="378.2" cy="700.6" r="5.5"/>
<circle cx="378.2" cy="709.3" r="3.5"/>
<circle cx="378.2" cy="718.0" r="4.5"/>
<circle cx="378.2" cy="726.8" r="5"/>
<circle cx="378.2" cy="735.5" r="4.5"/>
<circle cx="378.2" cy="744.2" r="5.5"/>
<circle cx="378.2" cy="752.9" r="7"/>
<circle cx="378.2" cy="761.6" r="5.5"/>
<circle cx="378.2" cy="770.4" r="5"/>
<circle cx="378.2" cy="779.1" r="5"/>
<circle cx="378.2" cy="787.8" r="6"/>
<circle cx="378.2" cy="796.5" r="8"/>
<circle cx="378.2" cy="805.3" r="9.5"/>
<circle cx="378.2" cy="814.0" r="6.5"/>
<circle cx="378.2" cy="822.7" r="6.56"/>
<circle cx="378.2" cy="831.5" r="6.17"/>
<circle cx="378.2" cy="840.2" r="6.25"/>
<circle cx="378.2" cy="848.9" r="5"/>
<circle cx="378.2" cy="857.6" r="4.89"/>
<circle cx="378.2" cy="866.4" r="5.28"/>
<circle cx="378.2" cy="875.1" r="4.74"/>
<circle cx="378.2" cy="883.8" r="5"/>
<circle cx="378.2" cy="892.5" r="5.62"/>
<circle cx="378.2" cy="901.2" r="5.61"/>
<circle cx="378.2" cy="910.0" r="6.5"/>
<circle cx="378.2" cy="918.7" r="7.13"/>
<circle cx="378.2" cy="927.4" r="8"/>
<circle cx="378.2" cy="936.1" r="7.94"/>
<circle cx="378.2" cy="944.9" r="6.5"/>
<circle cx="378.2" cy="953.6" r="5.96"/>
<circle cx="378.2" cy="962.3" r="5.5"/>
<circle cx="378.2" cy="971.0" r="5.5"/>
<circle cx="378.2" cy="979.8" r="6.2"/>
<circle cx="378.2" cy="988.5" r="6.5"/>
<circle cx="378.2" cy="997.2" r="5.9"/>
<circle cx="378.2" cy="1006.0" r="6.4"/>
<circle cx="378.2" cy="1014.7" r="5.83"/>
<circle cx="378.2" cy="1023.4" r="5.48"/>
<circle cx="378.2" cy="1032.1" r="5.5"/>
<circle cx="404.5" cy="665.7" r="1" fill="#3c5ab0"/>
<circle cx="404.5" cy="683.1" r="1" fill="#3c5ab0"/>
<circle cx="404.5" cy="700.6" r="2.5"/>
<circle cx="404.5" cy="709.3" r="0.6" fill="#4a5fa8" fill-opacity=".75"/>
<circle cx="404.5" cy="718.0" r="3"/>
<circle cx="404.5" cy="726.8" r="3.5"/>
<circle cx="404.5" cy="735.5" r="2.5"/>
<circle cx="404.5" cy="744.2" r="3"/>
<circle cx="404.5" cy="752.9" r="4"/>
<circle cx="404.5" cy="761.6" r="3.5"/>
<circle cx="404.5" cy="770.4" r="3"/>
<circle cx="404.5" cy="779.1" r="5.5"/>
<circle cx="404.5" cy="787.8" r="7"/>
<circle cx="404.5" cy="796.5" r="5.5"/>
<circle cx="404.5" cy="805.3" r="5"/>
<circle cx="404.5" cy="814.0" r="5"/>
<circle cx="404.5" cy="822.7" r="4.51"/>
<circle cx="404.5" cy="831.5" r="4.77"/>
<circle cx="404.5" cy="840.2" r="4.93"/>
<circle cx="404.5" cy="848.9" r="5.5"/>
<circle cx="404.5" cy="857.6" r="5.82"/>
<circle cx="404.5" cy="866.4" r="5.5"/>
<circle cx="404.5" cy="875.1" r="5.66"/>
<circle cx="404.5" cy="883.8" r="6"/>
<circle cx="404.5" cy="892.5" r="4.45"/>
<circle cx="404.5" cy="901.2" r="4.06"/>
<circle cx="404.5" cy="910.0" r="4"/>
<circle cx="404.5" cy="918.7" r="4.4"/>
<circle cx="404.5" cy="927.4" r="5.23"/>
<circle cx="404.5" cy="936.1" r="4.99"/>
<circle cx="404.5" cy="944.9" r="5"/>
<circle cx="404.5" cy="953.6" r="4.8"/>
<circle cx="404.5" cy="962.3" r="4"/>
<circle cx="404.5" cy="971.0" r="3.95"/>
<circle cx="404.5" cy="979.8" r="4.21"/>
<circle cx="404.5" cy="988.5" r="4"/>
<circle cx="404.5" cy="997.2" r="4.5"/>
<circle cx="404.5" cy="1006.0" r="4.61"/>
<circle cx="404.5" cy="1014.7" r="4.24"/>
<circle cx="404.5" cy="1023.4" r="4.5"/>
<circle cx="404.5" cy="1032.1" r="3.5"/>
<circle cx="430.8" cy="700.6" r="1" fill="#3c5ab0"/>
<circle cx="430.8" cy="709.3" r="0.6" fill="#4a5fa8" fill-opacity=".75"/>
<circle cx="430.8" cy="718.0" r="0.6" fill="#4a5fa8" fill-opacity=".75"/>
<circle cx="430.8" cy="726.8" r="1" fill="#3c5ab0"/>
<circle cx="430.8" cy="735.5" r="1.2" fill="#3c5ab0"/>
<circle cx="430.8" cy="744.2" r="4"/>
<circle cx="430.8" cy="752.9" r="4"/>
<circle cx="430.8" cy="761.6" r="3"/>
<circle cx="430.8" cy="770.4" r="3.5"/>
<circle cx="430.8" cy="779.1" r="2" fill="#3c5ab0"/>
<circle cx="430.8" cy="787.8" r="4.5"/>
<circle cx="430.8" cy="796.5" r="4.5"/>
<circle cx="430.8" cy="805.3" r="4.5"/>
<circle cx="430.8" cy="814.0" r="4.5"/>
<circle cx="430.8" cy="822.7" r="4"/>
<circle cx="430.8" cy="831.5" r="4"/>
<circle cx="430.8" cy="840.2" r="3"/>
<circle cx="430.8" cy="848.9" r="2.5"/>
<circle cx="430.8" cy="857.6" r="3.5"/>
<circle cx="430.8" cy="866.4" r="4.5"/>
<circle cx="430.8" cy="875.1" r="4.76"/>
<circle cx="430.8" cy="883.8" r="4.37"/>
<circle cx="430.8" cy="892.5" r="4.5"/>
<circle cx="430.8" cy="901.2" r="4.24"/>
<circle cx="430.8" cy="910.0" r="3.5"/>
<circle cx="430.8" cy="918.7" r="3.31"/>
<circle cx="430.8" cy="927.4" r="3"/>
<circle cx="430.8" cy="936.1" r="3.73"/>
<circle cx="430.8" cy="944.9" r="5"/>
<circle cx="430.8" cy="953.6" r="4.15"/>
<circle cx="430.8" cy="962.3" r="3.5"/>
<circle cx="430.8" cy="971.0" r="4.5"/>
<circle cx="430.8" cy="979.8" r="3.5"/>
<circle cx="430.8" cy="988.5" r="2.5"/>
<circle cx="430.8" cy="997.2" r="2" fill="#3c5ab0"/>
<circle cx="430.8" cy="1006.0" r="1.5" fill="#3c5ab0"/>
<circle cx="430.8" cy="1014.7" r="1.5" fill="#3c5ab0"/>
<circle cx="430.8" cy="1023.4" r="2.5"/>
<circle cx="430.8" cy="1032.1" r="2.5"/>
<circle cx="457.1" cy="744.2" r="3.5"/>
<circle cx="457.1" cy="752.9" r="0.6" fill="#4a5fa8" fill-opacity=".75"/>
<circle cx="457.1" cy="761.6" r="2" fill="#3c5ab0"/>
<circle cx="457.1" cy="770.4" r="0.6" fill="#4a5fa8" fill-opacity=".75"/>
<circle cx="457.1" cy="779.1" r="2.5"/>
<circle cx="457.1" cy="787.8" r="1.5" fill="#3c5ab0"/>
<circle cx="457.1" cy="796.5" r="1.5" fill="#3c5ab0"/>
<circle cx="457.1" cy="805.3" r="3"/>
<circle cx="457.1" cy="814.0" r="3.5"/>
<circle cx="457.1" cy="822.7" r="4"/>
<circle cx="457.1" cy="831.5" r="3.5"/>
<circle cx="457.1" cy="840.2" r="4"/>
<circle cx="457.1" cy="848.9" r="2.5"/>
<circle cx="457.1" cy="857.6" r="3.5"/>
<circle cx="457.1" cy="866.4" r="5"/>
<circle cx="457.1" cy="875.1" r="3"/>
<circle cx="457.1" cy="883.8" r="1.5" fill="#3c5ab0"/>
<circle cx="457.1" cy="892.5" r="3"/>
<circle cx="457.1" cy="901.2" r="3"/>
<circle cx="457.1" cy="910.0" r="2" fill="#3c5ab0"/>
<circle cx="457.1" cy="918.7" r="2.5"/>
<circle cx="457.1" cy="927.4" r="3.5"/>
<circle cx="457.1" cy="936.1" r="4.5"/>
<circle cx="457.1" cy="944.9" r="4.5"/>
<circle cx="457.1" cy="953.6" r="3.5"/>
<circle cx="457.1" cy="962.3" r="3.5"/>
<circle cx="457.1" cy="971.0" r="3.5"/>
<circle cx="457.1" cy="979.8" r="2.5"/>
<circle cx="457.1" cy="988.5" r="2.5"/>
<circle cx="457.1" cy="997.2" r="2" fill="#3c5ab0"/>
<circle cx="457.1" cy="1006.0" r="2.5"/>
<circle cx="457.1" cy="1014.7" r="2" fill="#3c5ab0"/>
<circle cx="457.1" cy="1023.4" r="2" fill="#3c5ab0"/>
<circle cx="457.1" cy="1032.1" r="2.5"/>
<circle cx="483.4" cy="779.1" r="0.6" fill="#4a5fa8" fill-opacity=".75"/>
<circle cx="483.4" cy="796.5" r="2" fill="#3c5ab0"/>
<circle cx="483.4" cy="814.0" r="2.5"/>
<circle cx="483.4" cy="822.7" r="0.6" fill="#4a5fa8" fill-opacity=".75"/>
<circle cx="483.4" cy="831.5" r="0.6" fill="#4a5fa8" fill-opacity=".75"/>
<circle cx="483.4" cy="840.2" r="1.5" fill="#3c5ab0"/>
<circle cx="483.4" cy="866.4" r="2.5"/>
<circle cx="483.4" cy="875.1" r="0.6" fill="#4a5fa8" fill-opacity=".75"/>
<circle cx="483.4" cy="883.8" r="1" fill="#3c5ab0"/>
<circle cx="483.4" cy="892.5" r="2" fill="#3c5ab0"/>
<circle cx="483.4" cy="901.2" r="1.5" fill="#3c5ab0"/>
<circle cx="483.4" cy="918.7" r="1" fill="#3c5ab0"/>
<circle cx="483.4" cy="927.4" r="3"/>
<circle cx="483.4" cy="936.1" r="1" fill="#3c5ab0"/>
<circle cx="483.4" cy="944.9" r="1.5" fill="#3c5ab0"/>
<circle cx="483.4" cy="971.0" r="0.6" fill="#4a5fa8" fill-opacity=".75"/>
<circle cx="483.4" cy="988.5" r="1.5" fill="#3c5ab0"/>
<circle cx="483.4" cy="1023.4" r="1.5" fill="#3c5ab0"/>
<circle cx="509.7" cy="805.3" r="1.5" fill="#3c5ab0"/>
<circle cx="509.7" cy="814.0" r="0.6" fill="#4a5fa8" fill-opacity=".75"/>
<circle cx="509.7" cy="831.5" r="2.5"/>
<circle cx="509.7" cy="840.2" r="1.5" fill="#3c5ab0"/>
<circle cx="509.7" cy="875.1" r="1.5" fill="#3c5ab0"/>
<circle cx="509.7" cy="883.8" r="3"/>
<circle cx="509.7" cy="892.5" r="3.5"/>
<circle cx="509.7" cy="910.0" r="1" fill="#3c5ab0"/>
<circle cx="509.7" cy="918.7" r="1" fill="#3c5ab0"/>
<circle cx="509.7" cy="927.4" r="0.6" fill="#4a5fa8" fill-opacity=".75"/>
<circle cx="509.7" cy="953.6" r="1.2" fill="#3c5ab0"/>
<circle cx="509.7" cy="962.3" r="0.6" fill="#4a5fa8" fill-opacity=".75"/>
<circle cx="509.7" cy="971.0" r="0.6" fill="#4a5fa8" fill-opacity=".75"/>
<circle cx="509.7" cy="979.8" r="1.2" fill="#3c5ab0"/>
<circle cx="509.7" cy="997.2" r="1.5" fill="#3c5ab0"/>
<circle cx="509.7" cy="1023.4" r="1.5" fill="#3c5ab0"/>
<circle cx="536.0" cy="875.1" r="0.6" fill="#4a5fa8" fill-opacity=".75"/>
<circle cx="536.0" cy="883.8" r="0.6" fill="#4a5fa8" fill-opacity=".75"/>
<circle cx="536.0" cy="892.5" r="1.5" fill="#3c5ab0"/>
<circle cx="536.0" cy="901.2" r="2" fill="#3c5ab0"/>
<circle cx="536.0" cy="997.2" r="0.6" fill="#4a5fa8" fill-opacity=".75"/>
</g></g>
<g font-size="14" fill="#3a3a3a" text-anchor="middle">
<text x="-3.3" y="1064.6" textLength="32.5" lengthAdjust="spacingAndGlyphs">800</text>
<text x="49.3" y="1064.6" textLength="32.5" lengthAdjust="spacingAndGlyphs">1000</text>
<text x="101.9" y="1064.6" textLength="32.5" lengthAdjust="spacingAndGlyphs">1200</text>
<text x="154.6" y="1064.6" textLength="32.5" lengthAdjust="spacingAndGlyphs">1400</text>
<text x="207.2" y="1064.6" textLength="32.5" lengthAdjust="spacingAndGlyphs">1600</text>
<text x="259.8" y="1064.6" textLength="32.5" lengthAdjust="spacingAndGlyphs">1800</text>
<text x="312.5" y="1064.6" textLength="32.5" lengthAdjust="spacingAndGlyphs">2000</text>
<text x="365.1" y="1064.6" textLength="32.5" lengthAdjust="spacingAndGlyphs">2200</text>
<text x="417.7" y="1064.6" textLength="32.5" lengthAdjust="spacingAndGlyphs">2400</text>
<text x="470.3" y="1064.6" textLength="32.5" lengthAdjust="spacingAndGlyphs">2600</text>
<text x="523.0" y="1064.6" textLength="32.5" lengthAdjust="spacingAndGlyphs">2800</text>
</g>
</g>
<rect x="541.8" y="1040" width="10" height="40" fill="#fff"/>
<g id="bar-panel">
<g stroke="#d6d6d6" stroke-width="1.7">
<line x1="541.5" y1="563.8" x2="1080" y2="563.8"/>
<line x1="541.5" y1="625.5" x2="1080" y2="625.5"/>
<line x1="541.5" y1="687.3" x2="1080" y2="687.3"/>
<line x1="541.5" y1="749.0" x2="1080" y2="749.0"/>
<line x1="541.5" y1="810.8" x2="1080" y2="810.8"/>
<line x1="541.5" y1="872.5" x2="1080" y2="872.5"/>
<line x1="541.5" y1="934.3" x2="1080" y2="934.3"/>
<line x1="541.5" y1="996.0" x2="1080" y2="996.0"/>
<line x1="541.5" y1="1057.8" x2="1080" y2="1057.8"/>
<line x1="622" y1="1057.8" x2="622" y2="1080" stroke-width="1.3"/>
<line x1="724.5" y1="1057.8" x2="724.5" y2="1080" stroke-width="1.3"/>
<line x1="828" y1="1057.8" x2="828" y2="1080" stroke-width="1.3"/>
<line x1="930.5" y1="1057.8" x2="930.5" y2="1080" stroke-width="1.3"/>
<line x1="1033" y1="1057.8" x2="1033" y2="1080" stroke-width="1.3"/>
</g>
<rect x="550" y="875.5" width="41.2" height="182.5" fill="url(#bar)"/>
<rect x="550" y="875.5" width="41.2" height="182.5" fill="url(#barh)"/>
<rect x="653" y="607" width="41.2" height="451.0" fill="url(#bar)"/>
<rect x="653" y="607" width="41.2" height="451.0" fill="url(#barh)"/>
<rect x="756.2" y="808.8" width="41.2" height="249.2" fill="url(#bar)"/>
<rect x="756.2" y="808.8" width="41.2" height="249.2" fill="url(#barh)"/>
<rect x="858" y="944.5" width="41.2" height="113.5" fill="url(#bar)"/>
<rect x="858" y="944.5" width="41.2" height="113.5" fill="url(#barh)"/>
<rect x="961.3" y="990" width="41.2" height="68.0" fill="url(#bar)"/>
<rect x="961.3" y="990" width="41.2" height="68.0" fill="url(#barh)"/>
<rect x="1064.5" y="1018" width="41.2" height="40.0" fill="url(#bar)"/>
<rect x="1064.5" y="1018" width="41.2" height="40.0" fill="url(#barh)"/>
<g font-size="12" fill="#4f4f4f" text-anchor="middle">
<text x="570.6" y="866.7" textLength="40.5" lengthAdjust="spacingAndGlyphs">14.80%</text>
<text x="673.6" y="598.2" textLength="40.5" lengthAdjust="spacingAndGlyphs">36.52%</text>
<text x="776.8" y="800.0" textLength="40.5" lengthAdjust="spacingAndGlyphs">20.20%</text>
<text x="878.6" y="935.7" textLength="33.5" lengthAdjust="spacingAndGlyphs">9.27%</text>
<text x="981.9" y="981.2" textLength="33.5" lengthAdjust="spacingAndGlyphs">5.53%</text>
<text x="1085.1" y="1009.2" textLength="33.5" lengthAdjust="spacingAndGlyphs">3.11%</text>
</g>
<g font-size="11.6" fill="#555555" text-anchor="middle">
<text x="571.7" y="1076.8" textLength="42.5" lengthAdjust="spacingAndGlyphs">.5≤-≤.75</text>
<text x="673" y="1076.8" textLength="64" lengthAdjust="spacingAndGlyphs">.75 &lt; -≤1.02</text>
<text x="775.3" y="1076.8" textLength="66.7" lengthAdjust="spacingAndGlyphs">1.02 &lt; -≤1.41</text>
<text x="878.5" y="1076.8" textLength="55" lengthAdjust="spacingAndGlyphs">1.41 &lt; -≤2</text>
<text x="981.6" y="1076.8" textLength="54.3" lengthAdjust="spacingAndGlyphs">2 &lt; -≤2.84</text>
<text x="1078" y="1076.8" textLength="68.5" lengthAdjust="spacingAndGlyphs">2.84 &lt; -≤4.1</text>
</g>
</g>
</svg>
</body></html>
